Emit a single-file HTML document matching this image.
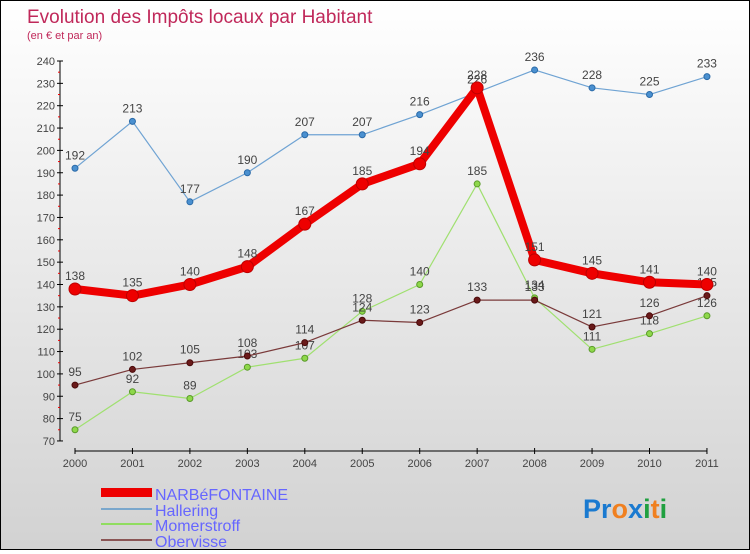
<!DOCTYPE html>
<html><head><meta charset="utf-8"><style>
body{margin:0;width:750px;height:550px;overflow:hidden;font-family:"Liberation Sans",sans-serif}
#wrap{position:absolute;left:0;top:0;width:748px;height:548px;border:1px solid #000;background:linear-gradient(#fff,#d2d2d2)}
</style></head><body>
<div id="wrap">
<svg id="svg" width="748" height="548" xmlns="http://www.w3.org/2000/svg">
<text x="26" y="22" font-size="19" fill="#c0285a">Evolution des Impôts locaux par Habitant</text>
<text x="26" y="38" font-size="11" fill="#c0285a">(en € et par an)</text>
<g id="axes"></g><g id="series"></g>
<g font-size="16" fill="#6666ff">
<rect x="100" y="487" width="51" height="9" fill="#e00"/>
<text x="154" y="499">NARBéFONTAINE</text>
<rect x="100" y="507" width="51" height="2" fill="#7aa7cc"/>
<text x="154" y="515">Hallering</text>
<rect x="100" y="522" width="51" height="2" fill="#90dd60"/>
<text x="154" y="530">Momerstroff</text>
<rect x="100" y="538" width="51" height="2" fill="#8a5555"/>
<text x="154" y="546">Obervisse</text>
</g>
<text x="582" y="517" font-size="27" font-weight="bold"><tspan fill="#1a7ad0">Pr</tspan><tspan fill="#f08020">o</tspan><tspan fill="#1a7ad0">x</tspan><tspan fill="#20a040">i</tspan><tspan fill="#f08020">t</tspan><tspan fill="#20a040">i</tspan></text>
</svg></div>
<script>
const years=[2000,2001,2002,2003,2004,2005,2006,2007,2008,2009,2010,2011];
const yTicks=[70,80,90,100,110,120,130,140,150,160,170,180,190,200,210,220,230,240];
const narb=[138,135,140,148,167,185,194,228,151,145,141,140];
const hallering=[192,213,177,190,207,207,216,226,236,228,225,233];
const momerstroff=[75,92,89,103,107,128,140,185,134,111,118,126];
const obervisse=[95,102,105,108,114,124,123,133,133,121,126,135];
const NS="http://www.w3.org/2000/svg";
function xS(i){return 74+i*57.45;}
function yS(v){return 60+(240-v)*2.235;}
function mk(t,a,p){const e=document.createElementNS(NS,t);for(const k in a)e.setAttribute(k,a[k]);p.appendChild(e);return e;}
const ax=document.getElementById('axes');
let yl=mk('line',{x1:59,x2:59,y1:yS(240),y2:yS(70),stroke:'#000'},ax);


yTicks.forEach(v=>{
 mk('line',{x1:56,x2:62,y1:yS(v),y2:yS(v),stroke:'#000'},ax);
 if(v<240) mk('line',{x1:57,x2:59,y1:yS(v+5),y2:yS(v+5),stroke:'#e00'},ax);
 const t=mk('text',{x:54,y:yS(v)+4,'font-size':11,fill:'#444','text-anchor':'end'},ax);t.textContent=v;
 
 
});
let xl=mk('line',{x1:xS(0),x2:xS(11),y1:450,y2:450,stroke:'#000'},ax);


years.forEach((y,i)=>{
 mk('line',{x1:xS(i),x2:xS(i),y1:447,y2:453,stroke:'#000'},ax);
 const t=mk('text',{x:xS(i),y:466,'font-size':11,fill:'#444','text-anchor':'middle'},ax);t.textContent=y;
 
 
});
const sg=document.getElementById('series');
function draw(name,data,color,w,r,fill,stroke){
 const g=mk('g',{},sg);
 
 
 const p=mk('polyline',{points:data.map((v,i)=>xS(i)+','+yS(v)).join(' '),fill:'none',stroke:color,'stroke-width':w,'stroke-linejoin':'round'},g);
 
 
 data.forEach((v,i)=>{
  const c=mk('circle',{cx:xS(i),cy:yS(v),r:r,fill:fill,stroke:stroke,'stroke-width':1},g);
  
  
  const t=mk('text',{x:xS(i),y:yS(v)-9,'font-size':12,fill:'#444','text-anchor':'middle'},g);t.textContent=v;
  
  
 });
}
draw('hallering',hallering,'#6fa3d3',1.2,3,'#4a90d0','#2a6aa8');
draw('momerstroff',momerstroff,'#a0e070',1.2,3,'#8ed84a','#5a9a2a');
draw('obervisse',obervisse,'#7a3a3a',1.2,3,'#6a1a1a','#4a0a0a');
draw('narbefontaine',narb,'#ee0000',8,6,'#e00','#b00');
</script>
</body></html>
